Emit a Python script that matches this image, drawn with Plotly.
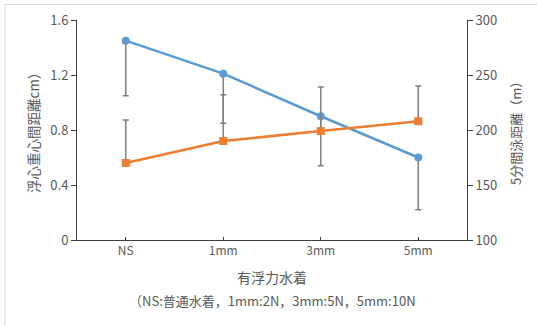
import plotly.graph_objects as go

categories = ["NS", "1mm", "3mm", "5mm"]
cob_distance = [1.45, 1.21, 0.90, 0.60]          # left axis (cm)
cob_err_minus = [0.40, 0.36, 0.36, 0.38]
swim_distance = [170, 190, 199, 208]             # right axis (m)
swim_err_plus = [39, 42, 40, 32]

left_ticks = [0, 0.4, 0.8, 1.2, 1.6]
left_tick_text = ["0", "0.4", "0.8", "1.2", "1.6"]
right_ticks = [100, 150, 200, 250, 300]

FONT = "Noto Sans CJK JP, Noto Sans, sans-serif"
GREY = "#595959"
ERR = "#7F7F7F"

# plot-area geometry in pixels (used only to place annotations in paper coords)
L, R, T, B = 77, 467, 20, 240
def px(x):
    return (x - L) / (R - L)
def py(y):
    return (B - y) / (B - T)

fig = go.Figure()
fig.add_trace(go.Scatter(
    x=categories, y=cob_distance, mode="lines+markers",
    line=dict(color="#5B9BD5", width=2.5),
    marker=dict(symbol="circle", size=8, color="#5B9BD5"),
    error_y=dict(type="data", symmetric=False, array=[0, 0, 0, 0],
                 arrayminus=cob_err_minus, color=ERR, thickness=1.5, width=3),
    yaxis="y", showlegend=False,
))
fig.add_trace(go.Scatter(
    x=categories, y=swim_distance, mode="lines+markers",
    line=dict(color="#ED7D31", width=2.5),
    marker=dict(symbol="square", size=8, color="#ED7D31"),
    error_y=dict(type="data", symmetric=False, array=swim_err_plus,
                 arrayminus=[0, 0, 0, 0], color=ERR, thickness=1.5, width=3),
    yaxis="y2", showlegend=False,
))

fig.update_layout(
    width=537, height=326,
    margin=dict(l=L, r=537 - R, t=T, b=326 - B, autoexpand=False),
    paper_bgcolor="white", plot_bgcolor="white",
    font=dict(family=FONT, size=12, color=GREY),
    xaxis=dict(type="category", range=[-0.5, 3.5], showgrid=False, automargin=False,
               showline=True, linecolor="#404040", linewidth=1,
               ticks="inside", ticklen=3, tickcolor="#404040",
               tickfont=dict(size=12, color=GREY), zeroline=False),
    yaxis=dict(range=[0, 1.6], tickvals=left_ticks, ticktext=left_tick_text,
               showgrid=False, showline=True, linecolor="#404040", linewidth=1,
               ticks="outside", ticklen=5, tickcolor="#404040", automargin=False,
               tickfont=dict(size=13, color=GREY), zeroline=False),
    yaxis2=dict(range=[100, 300], tickvals=right_ticks, overlaying="y", side="right",
                showgrid=False, showline=True, linecolor="#404040", linewidth=1,
                ticks="outside", ticklen=5, tickcolor="#404040", automargin=False,
                tickfont=dict(size=13, color=GREY), zeroline=False),
    annotations=[
        dict(text="浮心重心間距離cm）", xref="paper", yref="paper", x=px(33), y=py(130),
             textangle=-90, showarrow=False, font=dict(size=13.5, color=GREY),
             xanchor="center", yanchor="middle"),
        dict(text="5分間泳距離（m）", xref="paper", yref="paper", x=px(515), y=py(130),
             textangle=-90, showarrow=False, font=dict(size=13, color=GREY),
             xanchor="center", yanchor="middle"),
        dict(text="有浮力水着", xref="paper", yref="paper", x=0.5, y=py(277),
             showarrow=False, font=dict(size=14, color=GREY), xanchor="center", yanchor="middle"),
        dict(text="（NS:普通水着，1mm:2N，3mm:5N，5mm:10N", xref="paper", yref="paper",
             x=0.5, y=py(300), showarrow=False,
             font=dict(size=13, color=GREY), xanchor="center", yanchor="middle"),
    ],
    shapes=[dict(type="rect", xref="paper", yref="paper",
                 x0=px(5), x1=px(545), y0=py(335), y1=py(4.5),
                 line=dict(color="#D9D9D9", width=1), layer="below")],
)

fig.write_html("out.html",
               config={"displayModeBar": False},
               post_script="document.body.style.margin='0';document.body.style.padding='0';"
                           "document.documentElement.style.overflow='hidden';")
